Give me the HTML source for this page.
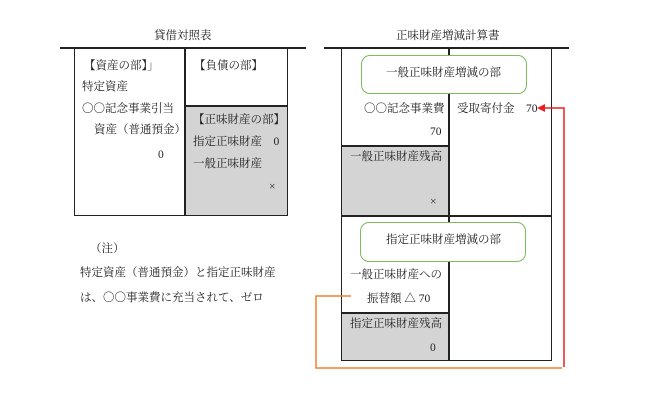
<!DOCTYPE html>
<html><head><meta charset="utf-8"><style>
body{margin:0;width:650px;height:408px;background:#fff;position:relative;overflow:hidden;font-family:"Liberation Serif","Noto Serif CJK SC",serif;color:#222}
.t{position:absolute;font-size:11.5px;white-space:nowrap;line-height:1}
.b{position:absolute;border:1.5px solid #222;box-sizing:border-box}
.g{position:absolute;background:#d4d4d4}
.gr{position:absolute;border:1.5px solid #7cbc5c;border-radius:9px;background:#fff;box-sizing:border-box}
</style></head><body>
<!-- left table -->
<div class="t" style="left:154px;top:31px">貸借対照表</div>
<div style="position:absolute;left:60px;top:47px;width:246px;height:1.5px;background:#222"></div>
<div class="g" style="left:184px;top:106px;width:103px;height:109px"></div>
<div class="b" style="left:74px;top:47px;width:214px;height:169px"></div>
<div style="position:absolute;left:184px;top:47px;width:1.5px;height:169px;background:#222"></div>
<div style="position:absolute;left:184px;top:105px;width:103px;height:1.5px;background:#222"></div>
<div class="t" style="left:84px;top:61px">【資産の部】」</div>
<div class="t" style="left:82px;top:82px">特定資産</div>
<div class="t" style="left:82px;top:104px">〇〇記念事業引当</div>
<div class="t" style="left:94px;top:125px">資産（普通預金）</div>
<div class="t" style="left:158px;top:150px">0</div>
<div class="t" style="left:194px;top:61px">【負債の部】</div>
<div class="t" style="left:193px;top:115px">【正味財産の部】</div>
<div class="t" style="left:193px;top:137px">指定正味財産　0</div>
<div class="t" style="left:193px;top:159px">一般正味財産</div>
<div class="t" style="left:269px;top:182px">×</div>
<div class="t" style="left:90px;top:244px">（注）</div>
<div class="t" style="left:80px;top:268px">特定資産（普通預金）と指定正味財産</div>
<div class="t" style="left:80px;top:293px">は、〇〇事業費に充当されて、ゼロ</div>
<!-- right table -->
<div class="t" style="left:396px;top:31px">正味財産増減計算書</div>
<div style="position:absolute;left:324px;top:47px;width:245px;height:1.5px;background:#222"></div>
<div class="g" style="left:342px;top:146px;width:107px;height:69px"></div>
<div class="g" style="left:342px;top:313px;width:107px;height:47px"></div>
<div class="b" style="left:341px;top:47px;width:211px;height:314px"></div>
<div style="position:absolute;left:448px;top:47px;width:1.5px;height:314px;background:#222"></div>
<div style="position:absolute;left:341px;top:145px;width:108px;height:1.5px;background:#222"></div>
<div style="position:absolute;left:341px;top:215px;width:211px;height:1.5px;background:#222"></div>
<div style="position:absolute;left:341px;top:312px;width:108px;height:1.5px;background:#222"></div>
<div class="gr" style="left:361px;top:55px;width:166px;height:39px"></div>
<div class="t" style="left:386px;top:68px">一般正味財産増減の部</div>
<div class="t" style="left:364px;top:104px">〇〇記念事業費</div>
<div class="t" style="left:430px;top:127px">70</div>
<div class="t" style="left:350px;top:152px">一般正味財産残高</div>
<div class="t" style="left:430px;top:197px">×</div>
<div class="t" style="left:457px;top:104px">受取寄付金　70</div>
<div class="gr" style="left:360px;top:222px;width:166px;height:40px"></div>
<div class="t" style="left:386px;top:235px">指定正味財産増減の部</div>
<div class="t" style="left:350px;top:270px">一般正味財産への</div>
<div class="t" style="left:367px;top:294px">振替額 △ 70</div>
<div class="t" style="left:350px;top:319px">指定正味財産残高</div>
<div class="t" style="left:430px;top:343px">0</div>
<svg style="position:absolute;left:0;top:0" width="650" height="408">
<polyline points="351,296 316,296 316,368 562,368" fill="none" stroke="#f08030" stroke-width="1.5"/>
<polyline points="564,367 564,108 544,108" fill="none" stroke="#e82020" stroke-width="1.5"/>
<polygon points="537,108 545,104 545,112" fill="#e82020"/>
</svg>
</body></html>
